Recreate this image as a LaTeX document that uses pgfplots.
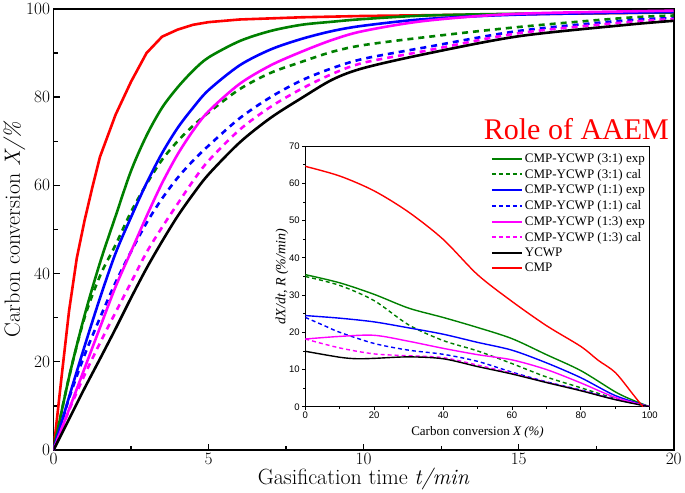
\documentclass[border=0pt]{standalone}
\usepackage{pgfplots}
\pgfplotsset{compat=1.18}
\usepackage{fontspec}
\newfontfamily\tnr{Liberation Serif}
\newfontfamily\arial{Liberation Sans}
\definecolor{cgreen}{RGB}{0,128,0}
\definecolor{cblue}{RGB}{0,0,255}
\definecolor{cmag}{RGB}{255,0,255}
\definecolor{cred}{RGB}{255,0,0}
\begin{document}
\begin{tikzpicture}
\begin{axis}[
  at={(0pt,0pt)}, anchor=south west,
  scale only axis, width=620pt, height=441pt,
  xmin=0, xmax=20, ymin=0, ymax=100,
  xtick={0,5,10,15,20}, ytick={0,20,40,60,80,100},
  minor x tick num=1, minor y tick num=1,
  tick align=inside, xtick pos=bottom, ytick pos=left,
  major tick length=6pt, minor tick length=4pt,
  every tick/.style={line width=1.3pt, black},
  axis line style={line width=1.6pt},
  tick label style={font=\fontsize{19}{19}\selectfont},
  xlabel={Gasification time \textit{t/min}},
  ylabel={Carbon conversion \textit{X/\%}},
  label style={font=\fontsize{22}{24}\selectfont},
  xlabel style={yshift=4pt},
  ylabel style={yshift=-6pt},
  every axis plot/.append style={line width=2.6pt},
  clip=true,
]
\addplot[cred] coordinates {(0,0)(0.25,16)(0.5,31.5)(0.75,43.5)(1,52)(1.25,59.5)(1.5,66.5)(2,76)(2.5,83.5)(3,90)(3.5,93.7)(4,95.3)(4.5,96.4)(5,97)(6,97.6)(8,98.1)(10,98.4)(15,98.8)(20,99.2)};
\addplot[cgreen, smooth] coordinates {(0,0)(0.5,16.5)(1,30.5)(1.5,42.5)(2,53)(2.5,63.3)(3,71.3)(3.5,77.6)(4,82.2)(4.5,86)(5,89)(6,92.7)(7,95)(8,96.4)(9,97.1)(10,97.7)(12,98.5)(15,98.9)(20,99.2)};
\addplot[cgreen, smooth, dash pattern=on 6pt off 5pt] coordinates {(0,0)(0.5,16.5)(1,30)(1.5,39.5)(2,46.5)(2.5,54)(3,60.3)(3.5,65.8)(4,70)(4.5,73.5)(5,76.5)(6,81.8)(7,85.5)(8,88)(9,90.3)(10,91.8)(12,93.6)(15,95.9)(18.5,98)(20,98.5)};
\addplot[cblue, smooth] coordinates {(0,0)(0.5,12)(1,23.5)(1.5,34.5)(2,44.6)(2.5,52.8)(3,60.5)(3.5,67.3)(4,73)(4.5,77.6)(5,81.6)(6,87.2)(7,90.8)(8,93.2)(9,95)(10,96.2)(12,97.7)(15,98.7)(20,99.3)};
\addplot[cblue, smooth, dash pattern=on 6pt off 5pt] coordinates {(0,0)(0.5,11.7)(1,21.5)(1.5,30)(2,38)(2.5,45)(3,51.5)(3.5,57)(4,61.7)(4.5,65.6)(5,69)(6,75.2)(7,80)(8,83.8)(9,86.6)(10,88.7)(12,91.3)(15,95)(18.5,97.4)(20,97.9)};
\addplot[cmag, smooth] coordinates {(0,0)(0.5,9.2)(1,18.5)(1.5,27.8)(2,37)(2.5,45)(3,53)(3.5,60.5)(4,67)(4.5,72.4)(5,76.8)(6,83)(7,87.2)(8,90.3)(9,93)(10,95)(12,97.3)(15,98.9)(20,99.6)};
\addplot[cmag, smooth, dash pattern=on 6pt off 5pt] coordinates {(0,0)(0.5,9)(1,17)(1.5,24.3)(2,31.2)(2.5,38)(3,44.8)(3.5,50.5)(4,55.8)(4.5,61)(5,65.6)(6,72.6)(7,77.8)(8,81.9)(9,85.3)(10,87.8)(12,90.5)(15,94.5)(18.5,97)(20,97.7)};
\addplot[black, smooth] coordinates {(0,0)(0.5,7)(1,14)(1.5,20.7)(2,27.5)(2.5,34.5)(3,41.2)(3.5,47.3)(4,53)(4.5,58)(5,62.5)(6,69.7)(7,75.3)(8,79.8)(9,84)(10,86.6)(12,89.8)(15,93.8)(18.5,96.4)(20,97.3)};
\node[anchor=base east, inner sep=0pt, text=cred, font=\tnr\fontsize{30}{30}\selectfont] at (axis cs:19.85,70.5) {Role of AAEM};
\end{axis}
\begin{axis}[
  at={(251.7pt,43.3pt)}, anchor=south west,
  scale only axis, width=344.3pt, height=260.4pt,
  xmin=0, xmax=100, ymin=0, ymax=70,
  xtick={0,20,40,60,80,100}, ytick={0,10,20,30,40,50,60,70},
  minor x tick num=1, minor y tick num=1,
  tick align=outside, xtick pos=bottom, ytick pos=left,
  major tick length=3pt, minor tick length=2pt,
  every tick/.style={line width=0.8pt, black},
  axis line style={line width=1pt},
  /pgf/number format/assume math mode=true,
  tick label style={font=\arial\fontsize{9.5}{10}\selectfont},
  xticklabel style={yshift=1pt},
  yticklabel style={xshift=1pt},
  xlabel={Carbon conversion \textit{X (\%)}},
  ylabel={\textit{dX/dt, R (\%/min)}},
  xlabel style={font=\tnr\fontsize{13}{14}\selectfont, yshift=-1pt},
  ylabel style={font=\tnr\fontsize{14}{15}\selectfont, yshift=-6pt},
  every axis plot/.append style={line width=1.4pt},
  legend style={at={(0.995,0.985)}, anchor=north east, draw=none, fill=none,
    font=\tnr\fontsize{13}{13.5}\selectfont, row sep=1.2pt, inner sep=1pt},
  legend cell align=left,
]
\addlegendimage{cgreen, line width=2pt, legend image code/.code={\draw (0pt,0pt) -- (30pt,0pt);}}
\addlegendentry{CMP-YCWP (3:1) exp}
\addlegendimage{cgreen, line width=2pt, dash pattern=on 4pt off 3pt, legend image code/.code={\draw (0pt,0pt) -- (30pt,0pt);}}
\addlegendentry{CMP-YCWP (3:1) cal}
\addlegendimage{cblue, line width=2pt, legend image code/.code={\draw (0pt,0pt) -- (30pt,0pt);}}
\addlegendentry{CMP-YCWP (1:1) exp}
\addlegendimage{cblue, line width=2pt, dash pattern=on 4pt off 3pt, legend image code/.code={\draw (0pt,0pt) -- (30pt,0pt);}}
\addlegendentry{CMP-YCWP (1:1) cal}
\addlegendimage{cmag, line width=2pt, legend image code/.code={\draw (0pt,0pt) -- (30pt,0pt);}}
\addlegendentry{CMP-YCWP (1:3) exp}
\addlegendimage{cmag, line width=2pt, dash pattern=on 4pt off 3pt, legend image code/.code={\draw (0pt,0pt) -- (30pt,0pt);}}
\addlegendentry{CMP-YCWP (1:3) cal}
\addlegendimage{black, line width=2pt, legend image code/.code={\draw (0pt,0pt) -- (30pt,0pt);}}
\addlegendentry{YCWP}
\addlegendimage{cred, line width=2pt, legend image code/.code={\draw (0pt,0pt) -- (30pt,0pt);}}
\addlegendentry{CMP}
\addplot[cgreen, smooth, forget plot] coordinates {(0,35.5)(10,33.3)(20,30.2)(30,26.5)(40,24)(50,21.3)(60,18.3)(70,14)(80,9.7)(90,4)(95,1.8)(100,0)};
\addplot[cgreen, smooth, dash pattern=on 4pt off 3pt, forget plot] coordinates {(0,35)(10,32.6)(20,28.5)(30,22)(40,17.8)(50,15)(60,11.6)(70,8)(80,5.1)(90,2.2)(100,0)};
\addplot[cblue, smooth, forget plot] coordinates {(0,24.5)(10,23.8)(20,22.8)(30,21.2)(40,19.5)(50,17.3)(60,15.2)(70,11.8)(80,7.8)(90,3)(100,0)};
\addplot[cblue, smooth, dash pattern=on 4pt off 3pt, forget plot] coordinates {(0,24)(5,22)(10,20)(20,17)(30,15.2)(40,14.1)(50,12.2)(60,9.3)(70,6.7)(80,4.5)(90,2)(100,0)};
\addplot[cmag, smooth, forget plot] coordinates {(0,18.2)(10,18.9)(20,19.2)(30,17.6)(40,15.7)(50,14)(60,12.6)(70,10)(80,6.4)(90,2.5)(100,0)};
\addplot[cmag, smooth, dash pattern=on 4pt off 3pt, forget plot] coordinates {(0,18.2)(10,15.8)(20,14.2)(30,13.7)(40,13.2)(50,11.2)(60,9)(70,6.6)(80,4.4)(90,2)(100,0)};
\addplot[black, smooth, forget plot] coordinates {(0,14.9)(10,13.3)(15,12.9)(20,13)(30,13.4)(40,12.9)(50,10.8)(60,8.8)(70,6.5)(80,4.3)(90,1.9)(100,0)};
\addplot[cred, smooth, forget plot] coordinates {(0,64.6)(10,62)(20,58)(30,52.3)(40,45)(50,35.5)(60,28.3)(70,21.8)(80,16.2)(85,12.5)(90,9.2)(95,3.5)(98,0)};
\end{axis}
\end{tikzpicture}
\end{document}
